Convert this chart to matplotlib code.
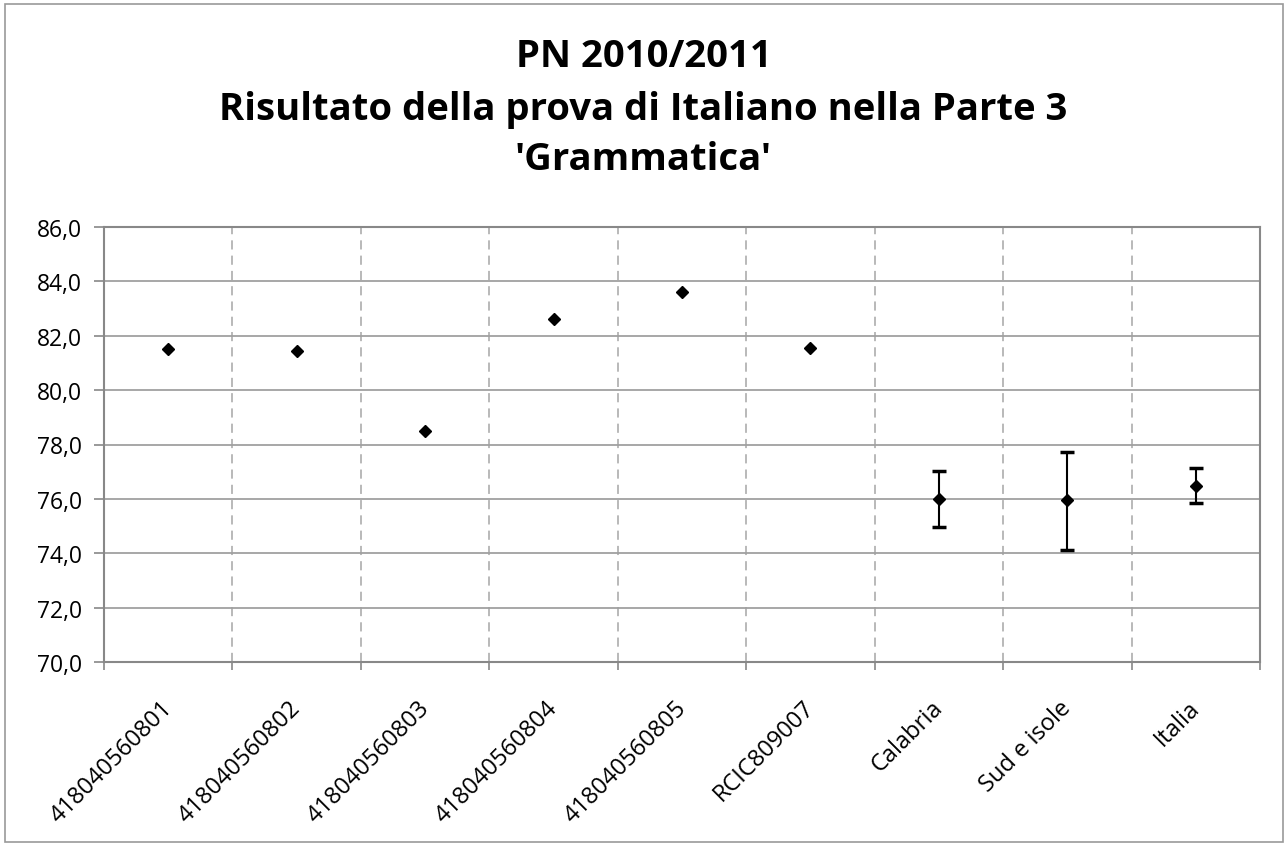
import matplotlib
matplotlib.use("Agg")
import matplotlib.pyplot as plt
import matplotlib.transforms as mtransforms
from matplotlib.ticker import FixedLocator, FuncFormatter
from matplotlib.patches import Rectangle

categories = ["418040560801", "418040560802", "418040560803", "418040560804",
              "418040560805", "RCIC809007", "Calabria", "Sud e isole", "Italia"]
values = [81.5, 81.45, 78.5, 82.6, 83.6, 81.55, 76.0, 75.96, 76.49]
err_upper = [None, None, None, None, None, None, 77.04, 77.72, 77.14]
err_lower = [None, None, None, None, None, None, 74.97, 74.12, 75.85]
title_lines = ["PN 2010/2011", "Risultato della prova di Italiano nella Parte 3", "'Grammatica'"]

plt.rcParams['font.family'] = ['Open Sans', 'DejaVu Sans']

fig = plt.figure(figsize=(12.87, 8.45), dpi=100)
ax = fig.add_axes([104/1287, 1-663/845, (1260-104)/1287, (663-228)/845])

x = list(range(len(categories)))
ax.plot(x, values, linestyle='none', marker='D', markersize=6.5, color='black', zorder=5)
for xi, v, hi, lo in zip(x, values, err_upper, err_lower):
    if hi is not None:
        ax.errorbar([xi], [v], yerr=[[v - lo], [hi - v]], fmt='none', ecolor='black',
                    elinewidth=1.5, capsize=5, capthick=2.5, zorder=4)

ax.set_xlim(-0.5, len(categories) - 0.5)
ax.set_ylim(70, 86)
ax.set_yticks([70, 72, 74, 76, 78, 80, 82, 84, 86])
ax.yaxis.set_major_formatter(FuncFormatter(lambda v, p: f"{v:.1f}".replace('.', ',')))
ax.set_xticks(x)
ax.set_xticklabels(categories, rotation=45, ha='right', rotation_mode='anchor', fontsize=17)
ax.tick_params(axis='x', which='major', length=0, pad=24)
offset = mtransforms.ScaledTranslation(-8/100, 0, fig.dpi_scale_trans)
for lab in ax.get_xticklabels():
    lab.set_transform(lab.get_transform() + offset)
ax.xaxis.set_minor_locator(FixedLocator([i + 0.5 for i in range(-1, len(categories))]))
ax.tick_params(axis='x', which='minor', length=6, color='#888888', width=1.2)
ax.tick_params(axis='y', which='major', length=7, color='#888888', width=1.2, labelsize=16.5, pad=9)

ax.grid(axis='y', which='major', color='#a0a0a0', linewidth=1.3, linestyle='-')
ax.grid(axis='x', which='minor', color='#a6a6a6', linewidth=1.1, linestyle=(0, (6, 4)))
ax.set_axisbelow(True)
for s in ax.spines.values():
    s.set_color('#888888')
    s.set_linewidth(1.5)

ys = [57, 110, 160]
for t, yy in zip(title_lines, ys):
    fig.text(0.5, 1 - yy/845, t, ha='center', va='center', fontsize=27.5, fontweight='bold')

fig.patches.append(Rectangle((5/1287, 2/845), 1278/1287, 838/845, transform=fig.transFigure,
                             fill=False, edgecolor='#999999', linewidth=1.2))

fig.savefig("out.png", dpi=100, facecolor='white')
